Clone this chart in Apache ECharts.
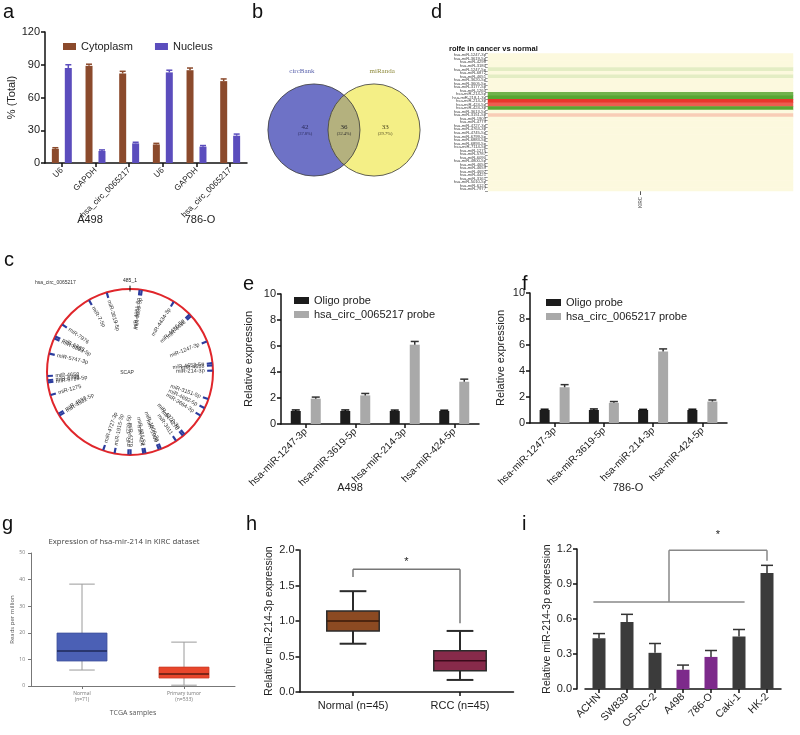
<!DOCTYPE html>
<html><head><meta charset="utf-8">
<script src="https://cdn.jsdelivr.net/npm/echarts@6/dist/echarts.min.js"></script>
<style>html,body{margin:0;padding:0;background:#fff}#c{width:800px;height:735px}</style>
</head><body><div id="c"></div>
<script>
// ---------- DATA ----------
// a
const aCategories = ['U6','GAPDH','hsa_circ_0065217','U6','GAPDH','hsa_circ_0065217'];
const aGroups = ['A498','786-O'];
const aSeriesNames = ['Cytoplasm','Nucleus'];
const aCytoplasm = [13,89,82,17,85,75];
const aCytoplasmErr = [1,1.5,2,1,2,2];
const aNucleus = [87,11,18,83,15,25];
const aNucleusErr = [3,1,1,2,1,1.5];
// b
const vennSets = ['circBank','miRanda'];
const vennCounts = [42,36,33];
const vennPct = ['(37.8%)','(32.4%)','(29.7%)'];
// d
const dColumn = ['KIRC'];
const dRows = ['hsa-miR-1247-3p','hsa-miR-3619-5p','hsa-miR-4298','hsa-miR-3180','hsa-miR-1247-5p','hsa-miR-6872','hsa-miR-4651','hsa-miR-3620-5p','hsa-miR-3605-5p','hsa-miR-3177-5p','hsa-miR-1260','hsa-miR-214-5p','hsa-miR-218-1-3p','hsa-miR-214-3p','hsa-miR-424-5p','hsa-miR-424-3p','hsa-miR-3613-5p','hsa-miR-3151-5p','hsa-miR-1909','hsa-miR-4779','hsa-miR-4727-3p','hsa-miR-4763-3p','hsa-miR-4745-5p','hsa-miR-6799-5p','hsa-miR-6883-5p','hsa-miR-6893-5p','hsa-miR-7114-5p','hsa-miR-1275','hsa-miR-5787','hsa-miR-6090','hsa-miR-4800-5p','hsa-miR-4656','hsa-miR-4659','hsa-miR-4692','hsa-miR-4421','hsa-miR-3161','hsa-miR-5010-5p','hsa-miR-6124','hsa-miR-7977'];
const dValues = [0,0,0,0,-0.3,0,-0.3,0,0,0,0,-1.7,-2,2,1.6,-2,0,0.45,0,0,0,0,0,0,0,0,0,0,0,0,0,0,0,0,0,0,0,0,0];
// c
const cCircRNA = 'hsa_circ_0065217';
const cGene = 'SCAP';
const cLength = 485;
const cMirNames = ['miR-4651-5p','miR-4659-5p','miR-4434-3p','miR-4486-5p','miR-4486','miR-1247-3p','miR-4653-5p','miR-4653','miR-214-3p','miR-3151-5p','miR-4692-5p','miR-3664-3p','miR-4270-3p','miR-4270','miR-3611','miR-1909-3p','miR-1909','miR-424-5p','miR-424','miR-4779','miR-4779-5p','miR-1915-3p','miR-4727-3p','miR-4532-5p','miR-4532','miR-1275','miR-6799-5p','miR-6799','miR-4658','miR-5747-3p','miR-6883-5p','miR-6883','miR-7976','miR-7-5p','miR-3619-5p'];
const cMirPos = [9,11,43,62,64,92,113,115,120,147,156,164,187,189,197,213,215,228,230,242,244,257,268,321,323,342,354,356,360,381,396,398,411,445,463];
// e, f
const eCategories = ['hsa-miR-1247-3p','hsa-miR-3619-5p','hsa-miR-214-3p','hsa-miR-424-5p'];
const eSeriesNames = ['Oligo probe','hsa_circ_0065217 probe'];
const eOligo = [1,1,1,1];
const eOligoErr = [0.08,0.08,0.07,0.06];
const eProbe = [1.95,2.2,6.1,3.25];
const eProbeErr = [0.12,0.15,0.25,0.2];
const fOligo = [1,1,1,1];
const fOligoErr = [0.06,0.08,0.05,0.06];
const fProbe = [2.75,1.55,5.5,1.65];
const fProbeErr = [0.2,0.1,0.2,0.12];
// g
const gCategories = ['Normal\n(n=71)','Primary tumor\n(n=533)'];
const gBoxes = [[6.0,9.4,13.2,19.9,38.3],[0.3,3.0,4.5,7.1,16.5]];
// h
const hCategories = ['Normal (n=45)','RCC (n=45)'];
const hBoxes = [[0.68,0.86,1.00,1.14,1.42],[0.17,0.30,0.44,0.58,0.86]];
const hSig = [0,1,1.73,1.62,0.97];
// i
const iCategories = ['ACHN','SW839','OS-RC-2','A498','786-O','Caki-1','HK-2'];
const iValues = [0.435,0.575,0.31,0.165,0.275,0.45,0.995];
const iErr = [0.04,0.065,0.08,0.04,0.055,0.06,0.065];
const iHighlight = ['A498','786-O'];
const iSig = [0.745,1.19,1.10];

// ---------- STYLE HELPERS ----------
const F = '"Liberation Sans", Arial, sans-serif';
function yVal(gi, min, max, interval, name, gap, extra) {
  return Object.assign({type:'value', gridIndex:gi, min, max, interval,
    axisLine:{show:true, lineStyle:{color:'#111', width:1.5}},
    axisTick:{show:true, length:4, lineStyle:{color:'#111', width:1.5}},
    axisLabel:{fontSize:11, color:'#222', fontFamily:F, margin:5},
    splitLine:{show:false},
    name, nameLocation:'middle', nameGap:gap, nameTextStyle:{fontSize:11, color:'#222', fontFamily:F}}, extra||{});
}
function xCat(gi, data, rotate, extra) {
  return Object.assign({type:'category', gridIndex:gi, data,
    axisLine:{show:true, lineStyle:{color:'#111', width:1.5}},
    axisTick:{show:true, alignWithLabel:true, length:4, lineStyle:{color:'#111', width:1.5}},
    axisLabel:{fontSize:10.5, color:'#222', fontFamily:F, rotate, margin:6, interval:0}}, extra||{});
}
function errSeries(gi, vals, errs, offPx, color, capW) {
  return {type:'custom', xAxisIndex:gi, yAxisIndex:gi, z:5, silent:true,
    data: vals.map((v,i)=>[i, v, errs[i]]),
    renderItem:(p, api)=>{
      const c = api.coord([api.value(0), api.value(1)]);
      const t = api.coord([api.value(0), api.value(1)+api.value(2)]);
      const x = c[0] + offPx;
      return {type:'group', children:[
        {type:'line', shape:{x1:x,y1:c[1],x2:x,y2:t[1]}, style:{stroke:color, lineWidth:1.5}},
        {type:'line', shape:{x1:x-capW/2,y1:t[1],x2:x+capW/2,y2:t[1]}, style:{stroke:color, lineWidth:1.5}}
      ]};
    }};
}
function boxSeries(gi, boxes, fills, st) {
  return {type:'custom', xAxisIndex:gi, yAxisIndex:gi, silent:true,
    data: boxes.map((b,i)=>[i].concat(b)),
    renderItem:(p, api)=>{
      const i = api.value(0);
      const pt = k => api.coord([i, api.value(k)]);
      const bw = api.size([1,0])[0];
      const w = bw*st.box, cw = bw*st.cap;
      const x = pt(1)[0];
      const lo=pt(1)[1], q1=pt(2)[1], md=pt(3)[1], q3=pt(4)[1], hi=pt(5)[1];
      return {type:'group', children:[
        {type:'line', shape:{x1:x,y1:hi,x2:x,y2:q3}, style:{stroke:st.wc, lineWidth:st.wl}},
        {type:'line', shape:{x1:x,y1:q1,x2:x,y2:lo}, style:{stroke:st.wc, lineWidth:st.wl}},
        {type:'line', shape:{x1:x-cw/2,y1:hi,x2:x+cw/2,y2:hi}, style:{stroke:st.wc, lineWidth:st.wl}},
        {type:'line', shape:{x1:x-cw/2,y1:lo,x2:x+cw/2,y2:lo}, style:{stroke:st.wc, lineWidth:st.wl}},
        {type:'rect', shape:{x:x-w/2,y:q3,width:w,height:q1-q3}, style:{fill:fills[p.dataIndex], stroke:st.bc[p.dataIndex], lineWidth:st.bl}},
        {type:'line', shape:{x1:x-w/2,y1:md,x2:x+w/2,y2:md}, style:{stroke:st.mc[p.dataIndex], lineWidth:st.ml}}
      ]};
    }};
}

// ---------- OPTION ----------
const grids = [
  {left:45, top:32, width:202, height:131},      // 0 a
  {left:268, top:84, width:152, height:92},      // 1 b venn
  {left:488, top:53.5, width:305, height:137.5}, // 2 d heatmap
  {left:281, top:294, width:198, height:130},    // 3 e
  {left:530, top:293, width:197, height:130},    // 4 f
  {left:31, top:553, width:204, height:133},     // 5 g
  {left:299.5, top:550, width:214, height:142},  // 6 h
  {left:585, top:549, width:196, height:140}     // 7 i
];
const xAxes = [
  xCat(0, aCategories, 45, {axisLabel:{fontSize:8.2, color:'#222', fontFamily:F, rotate:45, margin:6, interval:0}}),
  {type:'value', gridIndex:1, min:-2.53, max:2.53, show:false},
  {type:'category', gridIndex:2, data:dColumn, position:'bottom', axisLine:{show:false},
    axisTick:{show:true, alignWithLabel:true, length:4, lineStyle:{color:'#555'}},
    axisLabel:{fontSize:4.5, color:'#444', rotate:90, margin:6, fontFamily:F}},
  xCat(3, eCategories, 45, {axisLabel:{fontSize:10, color:'#222', fontFamily:F, rotate:45, margin:6, interval:0}}),
  xCat(4, eCategories, 45, {axisLabel:{fontSize:10, color:'#222', fontFamily:F, rotate:45, margin:6, interval:0}}),
  {type:'category', gridIndex:5, data:gCategories,
    axisLine:{lineStyle:{color:'#777', width:1}}, axisTick:{show:true, alignWithLabel:true, length:3, lineStyle:{color:'#777'}},
    axisLabel:{fontSize:5, color:'#777', lineHeight:6, margin:5, fontFamily:'"Open Sans", sans-serif'},
    name:'TCGA samples', nameLocation:'middle', nameGap:23, nameTextStyle:{fontSize:7, color:'#555', fontFamily:'"Open Sans", sans-serif'}},
  xCat(6, hCategories, 0, {axisLabel:{fontSize:11, color:'#222', fontFamily:F, margin:8, interval:0}}),
  xCat(7, iCategories, 45)
];
const yAxes = [
  yVal(0, 0, 120, 30, '% (Total)', 24),
  {type:'value', gridIndex:1, min:-1.53, max:1.53, show:false},
  {type:'category', gridIndex:2, data:dRows, inverse:true, axisLine:{show:false},
    axisTick:{show:true, length:3, lineStyle:{color:'#555', width:0.6}},
    axisLabel:{fontSize:4.2, color:'#444', margin:2, interval:0, fontFamily:F}},
  yVal(3, 0, 10, 2, 'Relative expression', 27),
  yVal(4, 0, 10, 2, 'Relative expression', 24),
  {type:'value', gridIndex:5, min:0, max:50, interval:10,
    axisLine:{show:true, lineStyle:{color:'#777', width:1}}, axisTick:{show:true, length:3, lineStyle:{color:'#777'}},
    axisLabel:{fontSize:5, color:'#777', margin:6, fontFamily:'"Open Sans", sans-serif'}, splitLine:{show:false},
    name:'Reads per million', nameLocation:'middle', nameGap:14, nameTextStyle:{fontSize:6, color:'#555', fontFamily:'"Open Sans", sans-serif'}},
  yVal(6, 0, 2, 0.5, 'Relative miR-214-3p expression', 25, {axisLabel:{fontSize:11, color:'#222', fontFamily:F, margin:5, formatter:v=>v.toFixed(1)}, nameTextStyle:{fontSize:10.5, color:'#222', fontFamily:F}}),
  yVal(7, 0, 1.2, 0.3, 'Relative miR-214-3p expression', 24, {offset:8, axisLabel:{fontSize:11, color:'#222', fontFamily:F, margin:5, formatter:v=>v.toFixed(1)}, nameTextStyle:{fontSize:10.5, color:'#222', fontFamily:F}})
];

const aColors = ['#8b4a2c','#5b4dbd'];
const eColors = ['#1c1c1c','#a9a9a9'];
const series = [];
// a
series.push({type:'bar', name:aSeriesNames[0], xAxisIndex:0, yAxisIndex:0, data:aCytoplasm, barWidth:7, barGap:'85%', itemStyle:{color:aColors[0]}});
series.push({type:'bar', name:aSeriesNames[1], xAxisIndex:0, yAxisIndex:0, data:aNucleus, barWidth:7, barGap:'85%', itemStyle:{color:aColors[1]}});
series.push(errSeries(0, aCytoplasm, aCytoplasmErr, -6.5, aColors[0], 6));
series.push(errSeries(0, aNucleus, aNucleusErr, 6.5, aColors[1], 6));
// b venn
series.push({type:'custom', xAxisIndex:1, yAxisIndex:1, silent:true, data:[[0,0]],
  renderItem:(p, api)=>{
    const cL = api.coord([-1,0]), cR = api.coord([1,0]);
    const r = api.size([1.533,0])[0];
    const d = (cR[0]-cL[0])/2;
    const th = Math.acos(d/r);
    const pts = [];
    for (let k=0;k<=40;k++){const t=-th+2*th*k/40; pts.push([cL[0]+r*Math.cos(t), cL[1]+r*Math.sin(t)]);}
    for (let k=0;k<=40;k++){const t=Math.PI-th+2*th*k/40; pts.push([cR[0]+r*Math.cos(t), cR[1]+r*Math.sin(t)]);}
    const T = (pos, txt, size, color) => ({type:'text', x:pos[0], y:pos[1], style:{text:txt, fontSize:size, fill:color, align:'center', verticalAlign:'middle', fontFamily:'"Liberation Serif", serif'}});
    return {type:'group', children:[
      {type:'circle', shape:{cx:cL[0], cy:cL[1], r}, style:{fill:'#6e72c6'}},
      {type:'circle', shape:{cx:cR[0], cy:cR[1], r}, style:{fill:'#f4ef86'}},
      {type:'polygon', shape:{points:pts}, style:{fill:'#b4b17e'}},
      {type:'circle', shape:{cx:cL[0], cy:cL[1], r}, style:{fill:'none', stroke:'#3a3a3a', lineWidth:0.8}},
      {type:'circle', shape:{cx:cR[0], cy:cR[1], r}, style:{fill:'none', stroke:'#3a3a3a', lineWidth:0.8}},
      T(api.coord([-1.4,1.97]), vennSets[0], 7, '#5a62ac'),
      T(api.coord([1.27,1.97]), vennSets[1], 7, '#8e8a3c'),
      T(api.coord([-1.3,0.1]), String(vennCounts[0]), 7, '#2a2a5a'),
      T(api.coord([-1.3,-0.12]), vennPct[0], 4.5, '#2a2a5a'),
      T(api.coord([0,0.1]), String(vennCounts[1]), 7, '#2a2a2a'),
      T(api.coord([0,-0.12]), vennPct[1], 4.5, '#2a2a2a'),
      T(api.coord([1.37,0.1]), String(vennCounts[2]), 7, '#4a4520'),
      T(api.coord([1.37,-0.12]), vennPct[2], 4.5, '#4a4520')
    ]};
  }});
// d heatmap
const heatIndex = series.length;
series.push({type:'heatmap', xAxisIndex:2, yAxisIndex:2, data:dValues.map((v,i)=>[0,i,v]), itemStyle:{borderWidth:0}, silent:true});
// c circle plot
series.push({type:'custom', coordinateSystem:'polar', polarIndex:0, silent:true,
  data: cMirPos.map((p)=>[1, p]),
  renderItem:(p, api)=>{
    const pos = api.value(1);
    const o = api.coord([0.995, pos]);
    const m = api.coord([0.93, pos]);
    const a0 = api.coord([0.9, pos]);
    const c = api.coord([0, pos]);
    const a = Math.atan2(o[1]-c[1], o[0]-c[0]);
    const right = (o[0]-c[0]) >= -0.01;
    const rot = right ? -a : -(a > 0 ? a - Math.PI : a + Math.PI);
    return {type:'group', children:[
      {type:'line', shape:{x1:m[0],y1:m[1],x2:o[0],y2:o[1]}, style:{stroke:'#2b3c9e', lineWidth:2.2}},
      {type:'text', x:a0[0], y:a0[1], rotation:rot, style:{text:cMirNames[p.dataIndex], fontSize:5.5, fill:'#333', align:right?'right':'left', verticalAlign:'middle', fontFamily:F}}
    ]};
  }});
series.push({type:'custom', coordinateSystem:'polar', polarIndex:0, silent:true, data:[[1,0]],
  renderItem:(p, api)=>{
    const o = api.coord([1.04, api.value(1)]);
    const i = api.coord([0.97, api.value(1)]);
    const t = api.coord([1.07, api.value(1)]);
    return {type:'group', children:[
      {type:'line', shape:{x1:i[0],y1:i[1],x2:o[0],y2:o[1]}, style:{stroke:'#111', lineWidth:1}},
      {type:'text', x:t[0], y:t[1], style:{text:cLength+'_1', fontSize:5, fill:'#222', align:'center', verticalAlign:'bottom', fontFamily:F}}
    ]};
  }});
// e
series.push({type:'bar', name:eSeriesNames[0], xAxisIndex:3, yAxisIndex:3, data:eOligo, barWidth:10, barGap:'100%', itemStyle:{color:eColors[0]}});
series.push({type:'bar', name:eSeriesNames[1], xAxisIndex:3, yAxisIndex:3, data:eProbe, barWidth:10, barGap:'100%', itemStyle:{color:eColors[1]}});
series.push(errSeries(3, eOligo, eOligoErr, -10, '#111', 8));
series.push(errSeries(3, eProbe, eProbeErr, 10, '#333', 8));
// f
series.push({type:'bar', name:eSeriesNames[0], xAxisIndex:4, yAxisIndex:4, data:fOligo, barWidth:10, barGap:'100%', itemStyle:{color:eColors[0]}});
series.push({type:'bar', name:eSeriesNames[1], xAxisIndex:4, yAxisIndex:4, data:fProbe, barWidth:10, barGap:'100%', itemStyle:{color:eColors[1]}});
series.push(errSeries(4, fOligo, fOligoErr, -10, '#111', 8));
series.push(errSeries(4, fProbe, fProbeErr, 10, '#333', 8));
// g
series.push(boxSeries(5, gBoxes, ['#4b60b5','#e8462c'], {box:0.49, cap:0.25, wc:'#9a9a9a', wl:1, bc:['#3d4f9a','#c93a24'], bl:0.8, mc:['#1e2858','#5a1c12'], ml:1.5}));
// h
series.push(boxSeries(6, hBoxes, ['#8c4a22','#872a4a'], {box:0.49, cap:0.25, wc:'#2b2b2b', wl:2, bc:['#2b2b2b','#2b2b2b'], bl:1.5, mc:['#3a1a0a','#3a0a1a'], ml:1.5}));
series.push({type:'custom', xAxisIndex:6, yAxisIndex:6, silent:true, data:[[hSig[0], hSig[2]]],
  renderItem:(p, api)=>{
    const L = api.coord([hSig[0], hSig[2]]), R = api.coord([hSig[1], hSig[2]]);
    const Ld = api.coord([hSig[0], hSig[3]]), Rd = api.coord([hSig[1], hSig[4]]);
    const s = api.coord([hSig[0], hSig[2]+0.1]);
    const S = {stroke:'#777', lineWidth:1.5};
    return {type:'group', children:[
      {type:'line', shape:{x1:L[0],y1:L[1],x2:R[0],y2:R[1]}, style:S},
      {type:'line', shape:{x1:L[0],y1:L[1],x2:Ld[0],y2:Ld[1]}, style:S},
      {type:'line', shape:{x1:R[0],y1:R[1],x2:Rd[0],y2:Rd[1]}, style:S},
      {type:'text', x:(L[0]+R[0])/2, y:s[1], style:{text:'*', fontSize:11, fill:'#222', align:'center', verticalAlign:'middle', fontFamily:F}}
    ]};
  }});
// i
series.push({type:'bar', xAxisIndex:7, yAxisIndex:7, barWidth:13,
  data:iValues.map((v,k)=>({value:v, itemStyle:{color: iHighlight.includes(iCategories[k]) ? '#7d2a8b' : '#3b3b3b'}}))});
series.push(errSeries(7, iValues, iErr, 0, '#333', 12));
series.push({type:'custom', xAxisIndex:7, yAxisIndex:7, silent:true, data:[[0, iSig[0]]],
  renderItem:(p, api)=>{
    const bw = api.size([1,0])[0];
    const a = api.coord([0, iSig[0]]), b = api.coord([5, iSig[0]]);
    const m1 = api.coord([2, iSig[0]]), m2 = api.coord([3, iSig[0]]);
    const mx = (m1[0]+m2[0])/2;
    const top = api.coord([6, iSig[1]]), drop = api.coord([6, iSig[2]]);
    const st = api.coord([6, iSig[1]+0.13]);
    const S = {stroke:'#888', lineWidth:1.5};
    return {type:'group', children:[
      {type:'line', shape:{x1:a[0]-0.2*bw,y1:a[1],x2:b[0]+0.2*bw,y2:b[1]}, style:S},
      {type:'line', shape:{x1:mx,y1:a[1],x2:mx,y2:top[1]}, style:S},
      {type:'line', shape:{x1:mx,y1:top[1],x2:top[0],y2:top[1]}, style:S},
      {type:'line', shape:{x1:top[0],y1:top[1],x2:drop[0],y2:drop[1]}, style:S},
      {type:'text', x:(mx+top[0])/2, y:st[1], style:{text:'*', fontSize:11, fill:'#222', align:'center', verticalAlign:'middle', fontFamily:F}}
    ]};
  }});

function letter(t, x, y) { return {type:'text', left:x, top:y, style:{text:t, fontSize:20, fill:'#111', fontFamily:F}}; }
function label(t, x, y, size, color, extra) { return {type:'text', x, y, style:Object.assign({text:t, fontSize:size, fill:color||'#222', fontFamily:F, align:'center', verticalAlign:'middle'}, extra||{})}; }

const option = {
  animation:false,
  backgroundColor:'#fff',
  grid: grids,
  xAxis: xAxes,
  yAxis: yAxes,
  polar: {center:[130,372], radius:83},
  angleAxis: {min:0, max:cLength, startAngle:90, clockwise:true,
    axisLine:{show:true, lineStyle:{color:'#e0262b', width:2}}, axisTick:{show:false}, axisLabel:{show:false}, splitLine:{show:false}, splitArea:{show:false}},
  radiusAxis: {min:0, max:1, axisLine:{show:false}, axisTick:{show:false}, axisLabel:{show:false}, splitLine:{show:false}},
  visualMap: {show:false, seriesIndex:heatIndex, min:-2, max:2, dimension:2, inRange:{color:['#58a632','#fcf9de','#e8362c']}},
  legend: [
    {left:58, top:36, itemWidth:13, itemHeight:7, itemGap:22, icon:'rect', data:aSeriesNames, textStyle:{fontSize:11, color:'#222', fontFamily:F}},
    {left:289, top:290, orient:'vertical', itemWidth:15, itemHeight:7, itemGap:3, icon:'rect', data:eSeriesNames, textStyle:{fontSize:11, color:'#222', fontFamily:F}},
    {left:541, top:292, orient:'vertical', itemWidth:15, itemHeight:7, itemGap:3, icon:'rect', data:eSeriesNames, textStyle:{fontSize:11, color:'#222', fontFamily:F}}
  ],
  series,
  graphic: [
    letter('a', 3, 2), letter('b', 252, 2), letter('d', 431, 2), letter('c', 4, 250),
    letter('e', 243, 274), letter('f', 522, 274), letter('g', 2, 514), letter('h', 246, 514), letter('i', 522, 514),
    label(aGroups[0], 90, 220, 11), label(aGroups[1], 200, 220, 11),
    label('A498', 350, 488, 11), label('786-O', 628, 488, 11),
    label('rolfe in cancer vs normal', 449, 49, 7.5, '#111', {align:'left', fontWeight:'bold'}),
    label(cCircRNA, 35, 283, 5, '#333', {align:'left'}),
    label(cGene, 127, 373, 5, '#333'),
    label('Expression of hsa-mir-214 in KIRC dataset', 124, 542, 7.8, '#444', {fontFamily:'"Open Sans", sans-serif'})
  ]
};
const chart = echarts.init(document.getElementById('c'), null, {renderer:'canvas'});
chart.setOption(option);
</script></body></html>
